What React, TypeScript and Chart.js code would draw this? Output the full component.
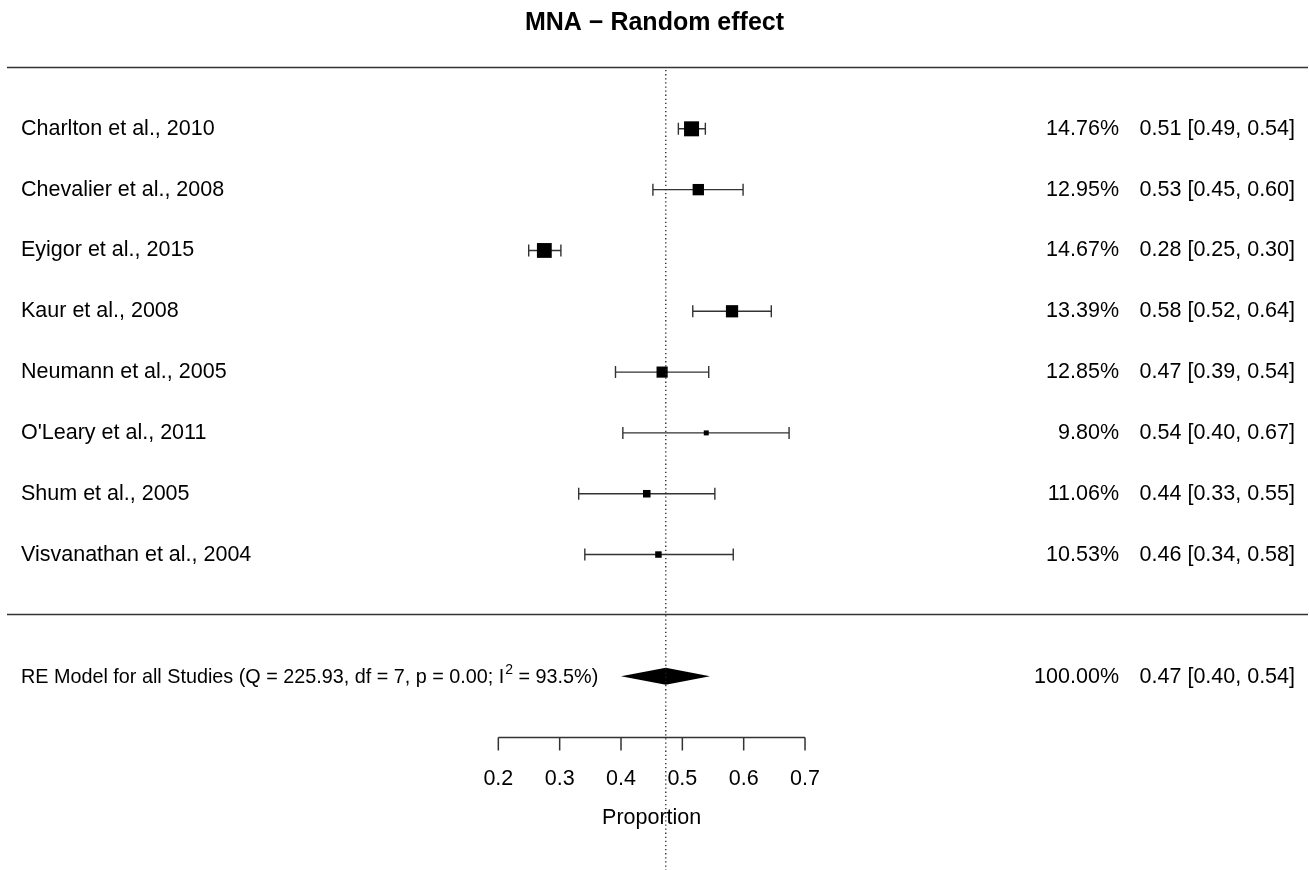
import { useEffect, useRef } from "react";
import { Chart, registerables } from "chart.js";

Chart.register(...registerables);

// ---------- data ----------
const title = "MNA \u2212 Random effect";
const studies = [
  "Charlton et al., 2010",
  "Chevalier et al., 2008",
  "Eyigor et al., 2015",
  "Kaur et al., 2008",
  "Neumann et al., 2005",
  "O'Leary et al., 2011",
  "Shum et al., 2005",
  "Visvanathan et al., 2004",
];
const estimates = [0.515, 0.526, 0.275, 0.581, 0.467, 0.539, 0.442, 0.461];
const lowerCI = [0.4935, 0.452, 0.2495, 0.517, 0.391, 0.403, 0.331, 0.341];
const upperCI = [0.5375, 0.599, 0.302, 0.645, 0.543, 0.674, 0.553, 0.583];
const weights = [14.76, 12.95, 14.67, 13.39, 12.85, 9.8, 11.06, 10.53];
const estimateLabels = [
  "0.51 [0.49, 0.54]",
  "0.53 [0.45, 0.60]",
  "0.28 [0.25, 0.30]",
  "0.58 [0.52, 0.64]",
  "0.47 [0.39, 0.54]",
  "0.54 [0.40, 0.67]",
  "0.44 [0.33, 0.55]",
  "0.46 [0.34, 0.58]",
];
const reLabelMain = "RE Model for all Studies (Q = 225.93, df = 7, p = 0.00; I";
const reLabelSup = "2";
const reLabelEnd = " = 93.5%)";
const reEstimate = 0.473;
const reLower = 0.4;
const reUpper = 0.545;
const reWeightLabel = "100.00%";
const reEstimateLabel = "0.47 [0.40, 0.54]";
const tickValues = [0.2, 0.3, 0.4, 0.5, 0.6, 0.7];
const tickLabels = ["0.2", "0.3", "0.4", "0.5", "0.6", "0.7"];
const xAxisTitle = "Proportion";

// ---------- layout / style ----------
const W = 1309;
const H = 870;
const FONT = '"Liberation Sans", Arial, Helvetica, sans-serif';
const X_MIN = -0.601;
const X_MAX = 1.5102;
const MIN_SQ = 5;
const MAX_SQ = 15;
const LINE = "#333333";

const wMin = Math.min(...weights);
const wMax = Math.max(...weights);
const squareSides = weights.map(
  (w) => MIN_SQ + ((MAX_SQ - MIN_SQ) * (w - wMin)) / (wMax - wMin)
);

export default function App() {
  const ref = useRef<HTMLCanvasElement | null>(null);

  useEffect(() => {
    document.body.style.margin = "0";
    const canvas = ref.current;
    if (!canvas) return;

    const k = studies.length;
    const topRow = -1;
    const sepRow = k;
    const reRow = k + 1;
    const axisRow = k + 2;

    const forestPlugin = {
      id: "forest",
      beforeDatasetsDraw(chart: any) {
        const ctx = chart.ctx as CanvasRenderingContext2D;
        const xs = chart.scales.x;
        const ys = chart.scales.y;
        const area = chart.chartArea;
        ctx.save();
        // horizontal rules
        ctx.strokeStyle = LINE;
        ctx.lineWidth = 1.5;
        [topRow, sepRow].forEach((r) => {
          const y = Math.round(ys.getPixelForValue(r)) - 0.5;
          ctx.beginPath();
          ctx.moveTo(area.left, y);
          ctx.lineTo(W - 1, y);
          ctx.stroke();
        });
        // CI whiskers
        ctx.lineWidth = 1.4;
        ctx.strokeStyle = LINE;
        studies.forEach((_, i) => {
          const y = ys.getPixelForValue(i);
          const x1 = xs.getPixelForValue(lowerCI[i]);
          const x2 = xs.getPixelForValue(upperCI[i]);
          ctx.beginPath();
          ctx.moveTo(x1, y);
          ctx.lineTo(x2, y);
          ctx.moveTo(x1, y - 6);
          ctx.lineTo(x1, y + 6);
          ctx.moveTo(x2, y - 6);
          ctx.lineTo(x2, y + 6);
          ctx.stroke();
        });
        // diamond
        const yd = ys.getPixelForValue(reRow);
        ctx.fillStyle = "#000";
        ctx.beginPath();
        ctx.moveTo(xs.getPixelForValue(reLower), yd);
        ctx.lineTo(xs.getPixelForValue(reEstimate), yd - 8.5);
        ctx.lineTo(xs.getPixelForValue(reUpper), yd);
        ctx.lineTo(xs.getPixelForValue(reEstimate), yd + 8.5);
        ctx.closePath();
        ctx.fill();
        ctx.restore();
      },
      afterDatasetsDraw(chart: any) {
        const ctx = chart.ctx as CanvasRenderingContext2D;
        const xs = chart.scales.x;
        const ys = chart.scales.y;
        const area = chart.chartArea;
        ctx.save();
        // dotted reference line at pooled estimate
        const xe = xs.getPixelForValue(reEstimate);
        ctx.strokeStyle = "#222";
        ctx.lineWidth = 1.3;
        ctx.setLineDash([1.3, 2.8]);
        ctx.beginPath();
        ctx.moveTo(xe, ys.getPixelForValue(topRow) + 2);
        ctx.lineTo(xe, H);
        ctx.stroke();
        ctx.setLineDash([]);

        // title
        ctx.fillStyle = "#000";
        ctx.font = `bold 25px ${FONT}`;
        ctx.textAlign = "center";
        ctx.textBaseline = "alphabetic";
        ctx.fillText(title, W / 2, 30);

        // study labels and right columns
        ctx.font = `21.5px ${FONT}`;
        const leftX = area.left + 14;
        const weightX = 1119;
        const estX = area.right - 7;
        studies.forEach((s, i) => {
          const y = ys.getPixelForValue(i) + 6;
          ctx.textAlign = "left";
          ctx.fillText(s, leftX, y);
          ctx.textAlign = "right";
          ctx.fillText(weights[i].toFixed(2) + "%", weightX, y);
          ctx.fillText(estimateLabels[i], estX, y);
        });

        // RE row
        const yr = ys.getPixelForValue(reRow) + 7;
        ctx.textAlign = "right";
        ctx.fillText(reWeightLabel, weightX, yr);
        ctx.fillText(reEstimateLabel, estX, yr);
        ctx.textAlign = "left";
        ctx.font = `19.8px ${FONT}`;
        let x = leftX;
        ctx.fillText(reLabelMain, x, yr);
        x += ctx.measureText(reLabelMain).width + 1;
        ctx.font = `14px ${FONT}`;
        ctx.fillText(reLabelSup, x, yr - 9);
        x += ctx.measureText(reLabelSup).width;
        ctx.font = `19.8px ${FONT}`;
        ctx.fillText(reLabelEnd, x, yr);

        // x axis
        const ya = Math.round(ys.getPixelForValue(axisRow)) + 0.5;
        const xa1 = xs.getPixelForValue(tickValues[0]);
        const xa2 = xs.getPixelForValue(tickValues[tickValues.length - 1]);
        ctx.strokeStyle = LINE;
        ctx.lineWidth = 1.5;
        ctx.beginPath();
        ctx.moveTo(xa1, ya);
        ctx.lineTo(xa2, ya);
        tickValues.forEach((t) => {
          const xt = xs.getPixelForValue(t);
          ctx.moveTo(xt, ya);
          ctx.lineTo(xt, ya + 13);
        });
        ctx.stroke();
        ctx.font = `21.5px ${FONT}`;
        ctx.textAlign = "center";
        tickValues.forEach((t, i) => {
          ctx.fillText(tickLabels[i], xs.getPixelForValue(t), ya + 47);
        });
        ctx.fillText(xAxisTitle, (xa1 + xa2) / 2, ya + 86);
        ctx.restore();
      },
    };

    const chart = new Chart(canvas, {
      type: "scatter",
      data: {
        datasets: [
          {
            data: estimates.map((e, i) => ({ x: e, y: i })),
            pointStyle: "rect",
            pointRadius: squareSides.map((s) => s / Math.SQRT2),
            pointHoverRadius: squareSides.map((s) => s / Math.SQRT2),
            backgroundColor: "#000",
            borderWidth: 0,
          },
        ],
      },
      options: {
        animation: false,
        responsive: false,
        devicePixelRatio: 1,
        events: [],
        layout: {
          autoPadding: false,
          padding: { left: 7, right: 7, top: 68, bottom: 133 },
        },
        scales: {
          x: { type: "linear", min: X_MIN, max: X_MAX, display: false },
          y: { type: "linear", min: topRow, max: axisRow, reverse: true, display: false },
        },
        plugins: {
          legend: { display: false },
          tooltip: { enabled: false },
          title: { display: false },
        },
      },
      plugins: [forestPlugin],
    });

    return () => chart.destroy();
  }, []);

  return (
    <div style={{ width: W, height: H, background: "#fff" }}>
      <canvas ref={ref} width={W} height={H} style={{ display: "block" }} />
    </div>
  );
}
